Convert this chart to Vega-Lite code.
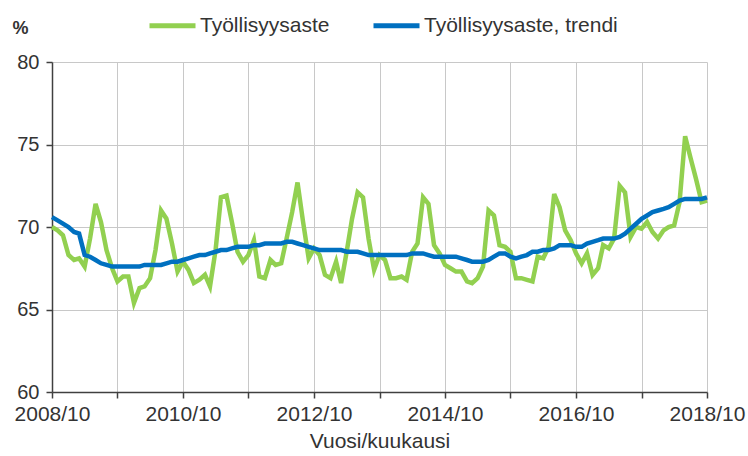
{
  "$schema": "https://vega.github.io/schema/vega-lite/v6.json",
  "width": 655,
  "height": 330,
  "autosize": {"type": "none"},
  "padding": {"left": 52, "top": 62, "right": 41, "bottom": 64},
  "config": {
    "font": "Liberation Sans",
    "view": {"stroke": null},
    "background": "white"
  },
  "data": {
    "values": [
      {"kk": "2008-10-01", "aste": 70.0, "trendi": 70.6},
      {"kk": "2008-11-01", "aste": 69.8, "trendi": 70.4},
      {"kk": "2008-12-01", "aste": 69.5, "trendi": 70.2},
      {"kk": "2009-01-01", "aste": 68.3, "trendi": 70.0},
      {"kk": "2009-02-01", "aste": 68.0, "trendi": 69.7},
      {"kk": "2009-03-01", "aste": 68.1, "trendi": 69.6},
      {"kk": "2009-04-01", "aste": 67.6, "trendi": 68.3},
      {"kk": "2009-05-01", "aste": 69.3, "trendi": 68.2},
      {"kk": "2009-06-01", "aste": 71.4, "trendi": 68.0},
      {"kk": "2009-07-01", "aste": 70.3, "trendi": 67.8},
      {"kk": "2009-08-01", "aste": 68.6, "trendi": 67.7},
      {"kk": "2009-09-01", "aste": 67.5, "trendi": 67.6},
      {"kk": "2009-10-01", "aste": 66.7, "trendi": 67.6},
      {"kk": "2009-11-01", "aste": 67.0, "trendi": 67.6},
      {"kk": "2009-12-01", "aste": 67.0, "trendi": 67.6},
      {"kk": "2010-01-01", "aste": 65.4, "trendi": 67.6},
      {"kk": "2010-02-01", "aste": 66.3, "trendi": 67.6},
      {"kk": "2010-03-01", "aste": 66.4, "trendi": 67.7},
      {"kk": "2010-04-01", "aste": 66.9, "trendi": 67.7},
      {"kk": "2010-05-01", "aste": 68.6, "trendi": 67.7},
      {"kk": "2010-06-01", "aste": 71.0, "trendi": 67.7},
      {"kk": "2010-07-01", "aste": 70.5, "trendi": 67.8},
      {"kk": "2010-08-01", "aste": 69.0, "trendi": 67.9},
      {"kk": "2010-09-01", "aste": 67.3, "trendi": 67.9},
      {"kk": "2010-10-01", "aste": 67.9, "trendi": 68.0},
      {"kk": "2010-11-01", "aste": 67.4, "trendi": 68.1},
      {"kk": "2010-12-01", "aste": 66.6, "trendi": 68.2},
      {"kk": "2011-01-01", "aste": 66.8, "trendi": 68.3},
      {"kk": "2011-02-01", "aste": 67.1, "trendi": 68.3},
      {"kk": "2011-03-01", "aste": 66.4, "trendi": 68.4},
      {"kk": "2011-04-01", "aste": 68.6, "trendi": 68.5},
      {"kk": "2011-05-01", "aste": 71.8, "trendi": 68.6},
      {"kk": "2011-06-01", "aste": 71.9, "trendi": 68.6},
      {"kk": "2011-07-01", "aste": 70.3, "trendi": 68.7},
      {"kk": "2011-08-01", "aste": 68.5, "trendi": 68.8},
      {"kk": "2011-09-01", "aste": 67.9, "trendi": 68.8},
      {"kk": "2011-10-01", "aste": 68.3, "trendi": 68.8},
      {"kk": "2011-11-01", "aste": 69.2, "trendi": 68.9},
      {"kk": "2011-12-01", "aste": 67.0, "trendi": 68.9},
      {"kk": "2012-01-01", "aste": 66.9, "trendi": 69.0},
      {"kk": "2012-02-01", "aste": 68.0, "trendi": 69.0},
      {"kk": "2012-03-01", "aste": 67.7, "trendi": 69.0},
      {"kk": "2012-04-01", "aste": 67.8, "trendi": 69.0},
      {"kk": "2012-05-01", "aste": 69.3, "trendi": 69.1},
      {"kk": "2012-06-01", "aste": 70.9, "trendi": 69.1},
      {"kk": "2012-07-01", "aste": 72.7, "trendi": 69.0},
      {"kk": "2012-08-01", "aste": 70.3, "trendi": 68.9},
      {"kk": "2012-09-01", "aste": 68.1, "trendi": 68.8},
      {"kk": "2012-10-01", "aste": 68.7, "trendi": 68.7},
      {"kk": "2012-11-01", "aste": 68.3, "trendi": 68.6},
      {"kk": "2012-12-01", "aste": 67.1, "trendi": 68.6},
      {"kk": "2013-01-01", "aste": 66.9, "trendi": 68.6},
      {"kk": "2013-02-01", "aste": 67.9, "trendi": 68.6},
      {"kk": "2013-03-01", "aste": 66.6, "trendi": 68.6},
      {"kk": "2013-04-01", "aste": 68.5, "trendi": 68.5},
      {"kk": "2013-05-01", "aste": 70.5, "trendi": 68.5},
      {"kk": "2013-06-01", "aste": 72.1, "trendi": 68.5},
      {"kk": "2013-07-01", "aste": 71.8, "trendi": 68.4},
      {"kk": "2013-08-01", "aste": 69.3, "trendi": 68.3},
      {"kk": "2013-09-01", "aste": 67.4, "trendi": 68.3},
      {"kk": "2013-10-01", "aste": 68.3, "trendi": 68.3},
      {"kk": "2013-11-01", "aste": 68.0, "trendi": 68.3},
      {"kk": "2013-12-01", "aste": 66.9, "trendi": 68.3},
      {"kk": "2014-01-01", "aste": 66.9, "trendi": 68.3},
      {"kk": "2014-02-01", "aste": 67.0, "trendi": 68.3},
      {"kk": "2014-03-01", "aste": 66.8, "trendi": 68.3},
      {"kk": "2014-04-01", "aste": 68.5, "trendi": 68.4},
      {"kk": "2014-05-01", "aste": 69.0, "trendi": 68.4},
      {"kk": "2014-06-01", "aste": 71.8, "trendi": 68.4},
      {"kk": "2014-07-01", "aste": 71.4, "trendi": 68.3},
      {"kk": "2014-08-01", "aste": 68.9, "trendi": 68.2},
      {"kk": "2014-09-01", "aste": 68.4, "trendi": 68.2},
      {"kk": "2014-10-01", "aste": 67.7, "trendi": 68.2},
      {"kk": "2014-11-01", "aste": 67.5, "trendi": 68.2},
      {"kk": "2014-12-01", "aste": 67.3, "trendi": 68.2},
      {"kk": "2015-01-01", "aste": 67.3, "trendi": 68.1},
      {"kk": "2015-02-01", "aste": 66.7, "trendi": 68.0},
      {"kk": "2015-03-01", "aste": 66.6, "trendi": 67.9},
      {"kk": "2015-04-01", "aste": 66.9, "trendi": 67.9},
      {"kk": "2015-05-01", "aste": 67.6, "trendi": 67.9},
      {"kk": "2015-06-01", "aste": 71.0, "trendi": 68.0},
      {"kk": "2015-07-01", "aste": 70.7, "trendi": 68.2},
      {"kk": "2015-08-01", "aste": 68.9, "trendi": 68.4},
      {"kk": "2015-09-01", "aste": 68.8, "trendi": 68.4},
      {"kk": "2015-10-01", "aste": 68.5, "trendi": 68.2},
      {"kk": "2015-11-01", "aste": 66.9, "trendi": 68.1},
      {"kk": "2015-12-01", "aste": 66.9, "trendi": 68.2},
      {"kk": "2016-01-01", "aste": 66.8, "trendi": 68.3},
      {"kk": "2016-02-01", "aste": 66.7, "trendi": 68.5},
      {"kk": "2016-03-01", "aste": 68.2, "trendi": 68.5},
      {"kk": "2016-04-01", "aste": 68.1, "trendi": 68.6},
      {"kk": "2016-05-01", "aste": 68.8, "trendi": 68.6},
      {"kk": "2016-06-01", "aste": 72.0, "trendi": 68.7},
      {"kk": "2016-07-01", "aste": 71.2, "trendi": 68.9},
      {"kk": "2016-08-01", "aste": 69.8, "trendi": 68.9},
      {"kk": "2016-09-01", "aste": 69.2, "trendi": 68.9},
      {"kk": "2016-10-01", "aste": 68.4, "trendi": 68.8},
      {"kk": "2016-11-01", "aste": 67.8, "trendi": 68.8},
      {"kk": "2016-12-01", "aste": 68.4, "trendi": 69.0},
      {"kk": "2017-01-01", "aste": 67.1, "trendi": 69.1},
      {"kk": "2017-02-01", "aste": 67.5, "trendi": 69.2},
      {"kk": "2017-03-01", "aste": 68.9, "trendi": 69.3},
      {"kk": "2017-04-01", "aste": 68.7, "trendi": 69.3},
      {"kk": "2017-05-01", "aste": 69.3, "trendi": 69.3},
      {"kk": "2017-06-01", "aste": 72.5, "trendi": 69.4},
      {"kk": "2017-07-01", "aste": 72.1, "trendi": 69.6},
      {"kk": "2017-08-01", "aste": 69.4, "trendi": 69.9},
      {"kk": "2017-09-01", "aste": 70.0, "trendi": 70.2},
      {"kk": "2017-10-01", "aste": 69.9, "trendi": 70.5},
      {"kk": "2017-11-01", "aste": 70.3, "trendi": 70.7},
      {"kk": "2017-12-01", "aste": 69.7, "trendi": 70.9},
      {"kk": "2018-01-01", "aste": 69.3, "trendi": 71.0},
      {"kk": "2018-02-01", "aste": 69.8, "trendi": 71.1},
      {"kk": "2018-03-01", "aste": 70.0, "trendi": 71.2},
      {"kk": "2018-04-01", "aste": 70.1, "trendi": 71.4},
      {"kk": "2018-05-01", "aste": 71.5, "trendi": 71.6},
      {"kk": "2018-06-01", "aste": 75.5, "trendi": 71.7},
      {"kk": "2018-07-01", "aste": 74.2, "trendi": 71.7},
      {"kk": "2018-08-01", "aste": 72.9, "trendi": 71.7},
      {"kk": "2018-09-01", "aste": 71.5, "trendi": 71.7},
      {"kk": "2018-10-01", "aste": 71.6, "trendi": 71.8}
    ]
  },
  "transform": [
    {"fold": ["aste", "trendi"], "as": ["sarja", "arvo"]}
  ],
  "mark": {"type": "line", "strokeWidth": 4.5, "interpolate": "linear"},
  "encoding": {
    "x": {
      "field": "kk",
      "type": "temporal",
      "scale": {
        "type": "utc",
        "nice": false,
        "domain": [
          {"year": 2008, "month": 10, "date": 1, "utc": true},
          {"year": 2018, "month": 10, "date": 1, "utc": true}
        ]
      },
      "axis": {
        "title": "Vuosi/kuukausi",
        "titleFontSize": 21,
        "titleFontWeight": "normal",
        "titleColor": "#333333",
        "titleBaseline": "alphabetic",
        "titleY": 55,
        "values": [
          {"year": 2008, "month": 10, "date": 1, "utc": true},
          {"year": 2009, "month": 10, "date": 1, "utc": true},
          {"year": 2010, "month": 10, "date": 1, "utc": true},
          {"year": 2011, "month": 10, "date": 1, "utc": true},
          {"year": 2012, "month": 10, "date": 1, "utc": true},
          {"year": 2013, "month": 10, "date": 1, "utc": true},
          {"year": 2014, "month": 10, "date": 1, "utc": true},
          {"year": 2015, "month": 10, "date": 1, "utc": true},
          {"year": 2016, "month": 10, "date": 1, "utc": true},
          {"year": 2017, "month": 10, "date": 1, "utc": true},
          {"year": 2018, "month": 10, "date": 1, "utc": true}
        ],
        "labelExpr": "utcyear(datum.value) % 2 == 0 ? utcFormat(datum.value, '%Y/%m') : ''",
        "labelFontSize": 21,
        "labelColor": "#333333",
        "labelPadding": 5,
        "labelFlush": false,
        "labelOverlap": false,
        "tickSize": 6,
        "tickColor": "#404040",
        "tickWidth": 1.5,
        "domainColor": "#404040",
        "domainWidth": 1.5,
        "grid": true,
        "gridColor": "#c8c8c8",
        "gridWidth": 1
      }
    },
    "y": {
      "field": "arvo",
      "type": "quantitative",
      "scale": {"domain": [60, 80], "nice": false, "zero": false},
      "axis": {
        "title": "%",
        "titleAngle": 0,
        "titleAlign": "left",
        "titleBaseline": "middle",
        "titleX": -40,
        "titleY": -34,
        "titleFontSize": 18,
        "titleFontWeight": "bold",
        "titleColor": "#333333",
        "values": [60, 65, 70, 75, 80],
        "labelFontSize": 20,
        "labelColor": "#333333",
        "labelPadding": 7,
        "tickSize": 6,
        "tickColor": "#404040",
        "tickWidth": 1.5,
        "domainColor": "#404040",
        "domainWidth": 1.5,
        "grid": true,
        "gridColor": "#c8c8c8",
        "gridWidth": 1
      }
    },
    "color": {
      "field": "sarja",
      "type": "nominal",
      "scale": {"domain": ["aste", "trendi"], "range": ["#92D050", "#0070C0"]},
      "legend": {
        "title": null,
        "orient": "none",
        "direction": "horizontal",
        "legendX": 95,
        "legendY": -62,
        "symbolType": "stroke",
        "symbolSize": 2116,
        "symbolStrokeWidth": 5,
        "labelFontSize": 21,
        "labelColor": "#333333",
        "labelOffset": 2,
        "columnPadding": 33,
        "labelLimit": 400,
        "labelExpr": "datum.value == 'aste' ? 'Työllisyysaste' : 'Työllisyysaste, trendi'"
      }
    }
  }
}
